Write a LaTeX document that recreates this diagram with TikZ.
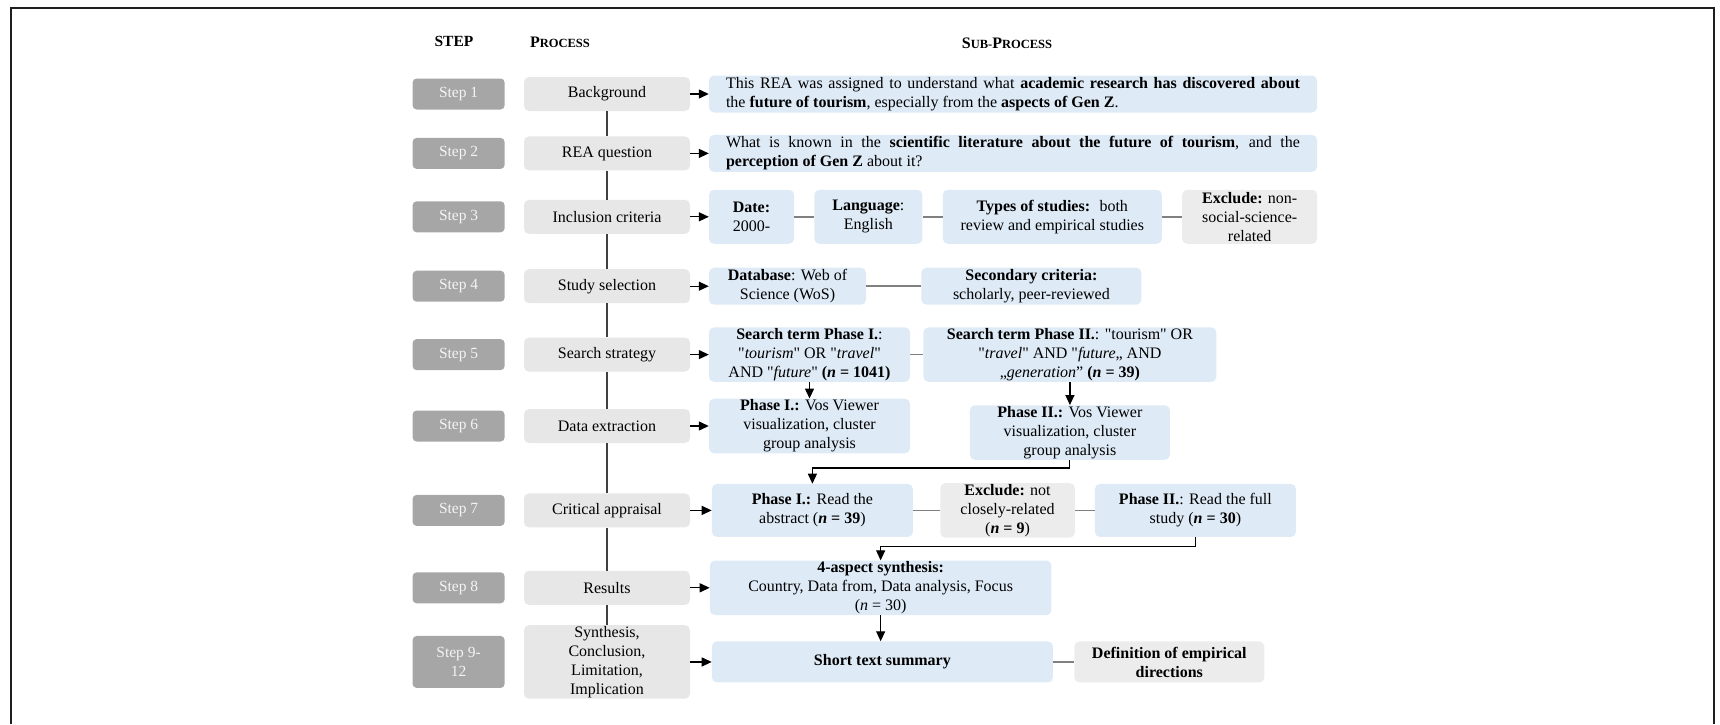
\documentclass[tikz,border=0pt]{standalone}
\usepackage{fontspec}
\setmainfont{Liberation Serif}
\newfontfamily\plainserif{Liberation Serif}
\usepackage{tikz}
\usetikzlibrary{positioning, arrows.meta}
\definecolor{stepgray}{RGB}{166,166,166}
\definecolor{stepwhite}{RGB}{244,244,244}
\definecolor{procgray}{RGB}{231,231,231}
\definecolor{subblue}{RGB}{222,234,246}
\definecolor{exgray}{RGB}{236,236,236}
\definecolor{linkgray}{RGB}{128,128,128}
\definecolor{framegray}{RGB}{30,30,30}
\newcommand{\hdrsc}[2]{{\fontsize{16}{18}\selectfont #1}{\fontsize{12.5}{18}\selectfont #2}}
\tikzset{%
  stepbox/.style={
    rectangle,
    rounded corners=4pt,
    fill=stepgray,
    text=stepwhite,
    minimum width=92pt,
    minimum height=31pt,
    align=center,
    font=\fontsize{15.5}{19}\selectfont
  },
  procbox/.style={
    rectangle,
    rounded corners=5pt,
    fill=procgray,
    minimum width=166pt,
    minimum height=34pt,
    inner sep=1pt,
    align=center,
    font=\fontsize{16}{19}\selectfont
  },
  subbox/.style={
    rectangle,
    rounded corners=5pt,
    fill=subblue,
    minimum height=37pt,
    inner xsep=3pt,
    inner ysep=1pt,
    align=center,
    font=\plainserif\fontsize{16}{19}\selectfont
  },
  exbox/.style={subbox, fill=exgray},
  arr/.style={-{Triangle[length=10pt, width=9pt]}, line width=1.3pt, black},
  link/.style={line width=1.6pt, linkgray},
  proclink/.style={line width=1.1pt, black!75}
}

\begin{document}
\begin{tikzpicture}[x=1pt, y=1pt]
		\useasboundingbox (0,0) rectangle (1720,-724);
		% frame
		\draw[line width=2.5pt, framegray] (11,-724) -- (11,-8) -- (1714,-8) -- (1714,-724);
		% headings
		\node[font=\bfseries\fontsize{15.5}{18}\selectfont] (hstep) at (454,-41) {STEP};
		\node[font=\bfseries] (hproc) at (560,-42) {\hdrsc{P}{ROCESS}};
		\node[font=\bfseries] (hsub) at (1007,-43) {\hdrsc{S}{UB-}\hdrsc{P}{ROCESS}};
		% process column
		\node[procbox] (bg) at (607,-94) {Background};
		\node[procbox, below=25pt of bg] (rea) {REA question};
		\node[procbox, below=29pt of rea] (inc) {Inclusion criteria};
		\node[procbox, below=35pt of inc] (ss) {Study selection};
		\node[procbox, below=34pt of ss] (str) {Search strategy};
		\node[procbox, below=37pt of str] (de) {Data extraction};
		\node[procbox, below=50pt of de] (ca) {Critical appraisal};
		\node[procbox, below=43pt of ca] (res) {Results};
		\node[procbox, below=20pt of res] (syn) {Synthesis,\\Conclusion,\\Limitation,\\Implication};
		% step column
		\node[stepbox, left=19pt of bg] (s1) {Step 1};
		\node[stepbox, left=19pt of rea] (s2) {Step 2};
		\node[stepbox, left=19pt of inc] (s3) {Step 3};
		\node[stepbox, left=19pt of ss] (s4) {Step 4};
		\node[stepbox, left=19pt of str] (s5) {Step 5};
		\node[stepbox, left=19pt of de] (s6) {Step 6};
		\node[stepbox, left=19pt of ca] (s7) {Step 7};
		\node[stepbox, left=19pt of res] (s8) {Step 8};
		\node[stepbox, minimum height=52pt, left=19pt of syn] (s9) {Step 9-\\12};
		% sub-process: steps 1-2
		\node[subbox, right=18.6pt of bg, inner xsep=17pt, text width=574pt, align=justify] (bgsub) {This REA was assigned to understand what \textbf{academic research has discovered about}\linebreak the \textbf{future of tourism}, especially from the \textbf{aspects of Gen Z}.};
		\node[subbox, right=18.6pt of rea, inner xsep=17pt, text width=574pt, align=justify] (reasub) {What is known in the \textbf{scientific literature about the future of tourism}, and the\linebreak \textbf{perception of Gen Z} about it?};
		% step 3
		\node[subbox, right=18.6pt of inc, minimum width=85pt, minimum height=54pt] (date) {\textbf{Date:}\\2000-};
		\node[subbox, right=20pt of date, minimum width=108pt, minimum height=54pt] (lang) {\textbf{Language}:\\English};
		\node[subbox, right=20pt of lang, minimum width=219pt, minimum height=54pt] (types) {\textbf{Types of studies:}~ both\\review and empirical studies};
		\node[exbox, right=20pt of types, minimum width=135pt, minimum height=54pt] (excl) {\textbf{Exclude:} non-\\social-science-\\related};
		% step 4
		\node[subbox, right=18.6pt of ss, minimum width=157pt] (db) {\textbf{Database}: Web of\\Science (WoS)};
		\node[subbox, right=55pt of db, minimum width=220pt] (crit) {\textbf{Secondary criteria:}\\scholarly, peer-reviewed};
		% step 5
		\node[subbox, right=18.6pt of str, minimum width=201pt, minimum height=53pt] (term1) {\textbf{Search term Phase I.}:\\"\textit{tourism}" OR "\textit{travel}"\\AND "\textit{future}" \textbf{(\textit{n} = 1041)}};
		\node[subbox, right=13pt of term1, minimum width=293pt, minimum height=53pt] (term2) {\textbf{Search term Phase II.}: "tourism" OR\\"\textit{travel}" AND "\textit{future}„ AND\\„\textit{generation}” \textbf{(\textit{n} = 39)}};
		% step 6
		\node[subbox, right=18.6pt of de, minimum width=201pt, minimum height=53pt] (vos1) {\textbf{Phase I.:} Vos Viewer\\visualization, cluster\\group analysis};
		\node[subbox, below=23pt of term2, minimum width=200pt, minimum height=53pt] (vos2) {\textbf{Phase II.:} Vos Viewer\\visualization, cluster\\group analysis};
		% step 7
		\node[subbox, right=21.5pt of ca, minimum width=201pt, minimum height=53pt] (read1) {\textbf{Phase I.:} Read the\\abstract (\textbf{\textit{n} = 39})};
		\node[exbox, right=27pt of read1, minimum width=134.5pt, minimum height=54pt] (excl2) {\textbf{Exclude:} not\\closely-related\\(\textbf{\textit{n} = 9})};
		\node[subbox, right=19.7pt of excl2, minimum width=201pt, minimum height=53pt] (read2) {\textbf{Phase II.}: Read the full\\study (\textbf{\textit{n} = 30})};
		% steps 8-12
		\node[subbox, right=19.5pt of res, minimum width=341.5pt, minimum height=54pt] (synth) {\textbf{4-aspect synthesis:}\\Country, Data from, Data analysis, Focus\\(\textit{n} = 30)};
		\node[subbox, right=21.5pt of syn, minimum width=341pt, minimum height=41pt] (summary) {\textbf{Short text summary}};
		\node[exbox, right=21pt of summary, minimum width=190pt, minimum height=41pt] (defin) {\textbf{Definition of empirical}\\\textbf{directions}};
		% connections
		\foreach \a/\b in {bg/rea, rea/inc, inc/ss, ss/str, str/de, de/ca, ca/res, res/syn}
			\draw[proclink] (\a) -- (\b);
		\foreach \a/\b in {bg/bgsub, rea/reasub, inc/date, ss/db, str/term1, de/vos1, ca/read1, res/synth, syn/summary}
			\draw[arr] (\a) -- (\b);
		\foreach \a/\b in {date/lang, lang/types, types/excl, db/crit, term1/term2, read1/excl2, excl2/read2, summary/defin}
			\draw[link] (\a) -- (\b);
		\draw[arr] (term1) -- (vos1);
		\draw[arr] (term2) -- (vos2);
		\draw[arr, line width=1.1pt] (vos2.south) -- ++(0,-8) -| (read1.north);
		\draw[arr, line width=1.1pt] (read2.south) -- ++(0,-9) -| (synth.north);
		\draw[arr] (synth.south) -- (synth.south |- summary.north);
	\end{tikzpicture}
\end{document}
